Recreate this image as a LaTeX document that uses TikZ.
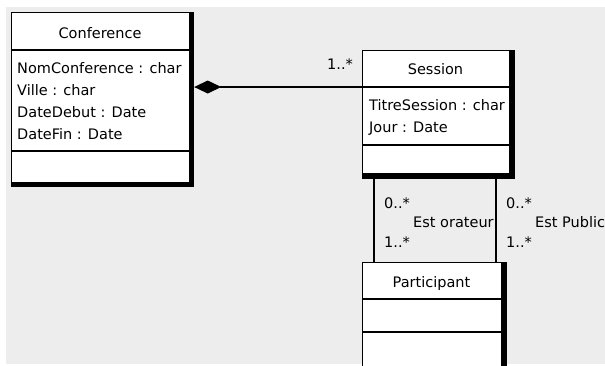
\documentclass[tikz,border=0pt]{standalone}
\usepackage{fontspec}
\setmainfont{DejaVu Sans}
\usetikzlibrary{arrows.meta}
\definecolor{bg}{HTML}{EDEDED}
\begin{document}
\begin{tikzpicture}[x=1pt,y=-1pt,
  classbox/.style={draw=black, line width=1.2pt, fill=white, inner sep=0pt, anchor=north west},
  thick edge/.style={fill=black},
  lbl/.style={font=\fontsize{14.5}{17}\selectfont, inner sep=0pt, anchor=base west},
  ttl/.style={font=\fontsize{14.5}{17}\selectfont, inner sep=0pt, anchor=base},
  divider/.style={line width=1.1pt},
  conn/.style={line width=1.1pt, draw=black}]
\useasboundingbox (0,0) rectangle (605,365);
\clip (0,0) rectangle (605,365);
\fill[white] (0,0) rectangle (605,365);
\fill[bg] (6,7) rectangle (605,364);
% Conference
\node[classbox, minimum width=178pt, minimum height=170pt] (conf) at (11,12) {};
\fill[thick edge] (conf.north east) rectangle ([shift={(4,4)}]conf.south east);
\fill[thick edge] (conf.south west) rectangle ([shift={(4,4)}]conf.south east);
\draw[divider] (conf.west |- 0,50) -- (conf.east |- 0,50);
\draw[divider] (conf.west |- 0,151) -- (conf.east |- 0,151);
\node[ttl] (confT) at (100,38) {Conference};
\node[lbl] (confA1) at (17,73) {NomConference : char};
\node[lbl] (confA2) at (17,95) {Ville : char};
\node[lbl] (confA3) at (17,117) {DateDebut : Date};
\node[lbl] (confA4) at (17,139) {DateFin : Date};
% Session
\node[classbox, minimum width=147pt, minimum height=123pt] (sess) at (362,50) {};
\fill[thick edge] (sess.north east) rectangle ([shift={(5,5)}]sess.south east);
\fill[thick edge] (sess.south west) rectangle ([shift={(5,5)}]sess.south east);
\coordinate (sessHd) at (sess.west |- 0,87);
\draw[divider] (sessHd) -- (sess.east |- 0,87);
\draw[divider] (sess.west |- 0,145) -- (sess.east |- 0,145);
\node[ttl] (sessT) at (435.5,74) {Session};
\node[lbl] (sessA1) at (369,110) {TitreSession : char};
\node[lbl] (sessA2) at (369,132) {Jour : Date};
% Participant
\node[classbox, minimum width=139pt, minimum height=140pt] (part) at (362,262) {};
\fill[thick edge] (part.north east) rectangle ([shift={(5,5)}]part.south east);
\draw[divider] (part.west |- 0,299) -- (part.east |- 0,299);
\draw[divider] (part.west |- 0,332) -- (part.east |- 0,332);
\node[ttl] (partT) at (431.5,287) {Participant};
% composition
\draw[conn, {Diamond[length=27pt,width=13pt]}-] ([xshift=4pt]conf.east |- sessHd) -- (sessHd);
\node[lbl] (m1) at (327,69) {1..*};
% associations
\draw[conn] ([xshift=12pt]sess.south west) -- ([xshift=12pt]part.north west);
\draw[conn] ([xshift=134pt]sess.south west) -- ([xshift=134pt]part.north west);
\node[lbl] (m2) at (384,208) {0..*};
\node[lbl] (a1) at (413,227) {Est orateur};
\node[lbl] (m3) at (384,247) {1..*};
\node[lbl] (m4) at (506,208) {0..*};
\node[lbl] (a2) at (535,227) {Est Public};
\node[lbl] (m5) at (506,247) {1..*};
\end{tikzpicture}
\end{document}
